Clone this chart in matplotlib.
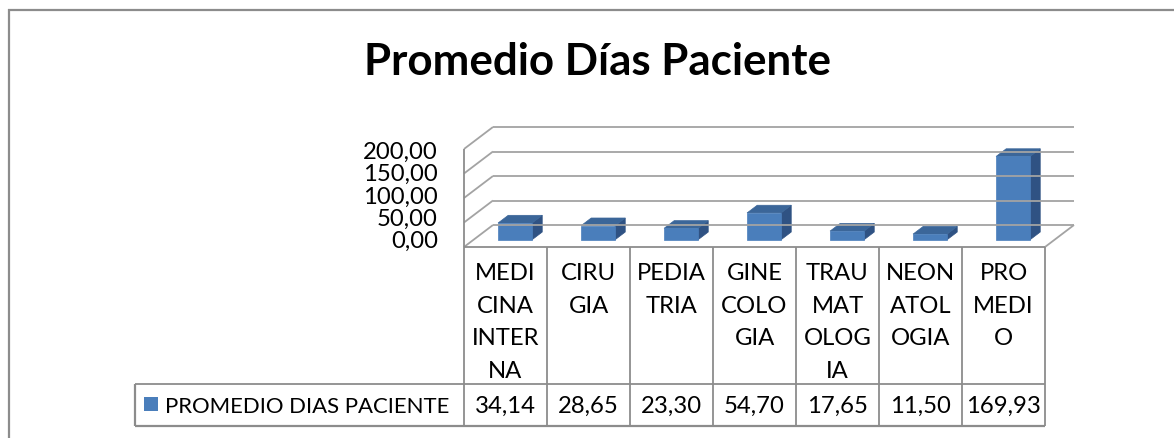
import matplotlib
matplotlib.use("Agg")
import matplotlib.pyplot as plt
from matplotlib.patches import Polygon, Rectangle

plt.rcParams['font.family'] = ['Lato', 'DejaVu Sans']

# data
categories = ["MEDI\nCINA\nINTER\nNA", "CIRU\nGIA", "PEDIA\nTRIA", "GINE\nCOLO\nGIA",
              "TRAU\nMAT\nOLOG\nIA", "NEON\nATOL\nOGIA", "PRO\nMEDI\nO"]
values = [34.14, 28.65, 23.30, 54.70, 17.65, 11.50, 169.93]
series_name = "PROMEDIO DIAS PACIENTE"
y_ticks = [0, 50, 100, 150, 200]
title = "Promedio Días Paciente"

W, H = 1174, 438
fig = plt.figure(figsize=(W / 100, H / 100), dpi=100)
fig.patch.set_facecolor("white")

# front plane of the 3d box (value scale)
ax = fig.add_axes([464 / W, (H - 247) / H, 581 / W, 98 / H])
ax.set_xlim(-0.5, len(values) - 0.5)
ax.set_ylim(0, 200)
ax.axis("off")

# pixel canvas, y down
cv = fig.add_axes([0, 0, 1, 1], zorder=2)
cv.set_xlim(0, W)
cv.set_ylim(H, 0)
cv.axis("off")
cv.patch.set_alpha(0)

DX, DY = 29, 22
GRID = "#a3a3a3"
LINE = "#8c8c8c"
FRONT, TOP, SIDE = "#4a7ebb", "#3b6699", "#2f5283"


def proj(x, v, d=0.0):
    disp = ax.transData.transform((x, v))
    px, py = cv.transData.inverted().transform(disp)
    return px + DX * d, py - DY * d


def seg(p, q, **kw):
    cv.plot([p[0], q[0]], [p[1], q[1]], solid_capstyle="butt", **kw)


x0, x1 = -0.5, len(values) - 0.5
for t in y_ticks:
    seg(proj(x0, t, 0), proj(x0, t, 1), color=GRID, lw=1.3)
    seg(proj(x0, t, 1), proj(x1, t, 1), color=GRID, lw=1.3)
seg(proj(x1, 0, 0), proj(x1, 0, 1), color=GRID, lw=1.3)
seg(proj(x0, 0, 0), proj(x0, 200, 0), color=LINE, lw=1.3)

# bars
bw = 0.41
d0, d1 = 0.33, 0.68
for i, v in enumerate(values):
    l, r = i - bw / 2, i + bw / 2
    front = [proj(l, 0, d0), proj(r, 0, d0), proj(r, v, d0), proj(l, v, d0)]
    top = [proj(l, v, d0), proj(r, v, d0), proj(r, v, d1), proj(l, v, d1)]
    side = [proj(r, 0, d0), proj(r, 0, d1), proj(r, v, d1), proj(r, v, d0)]
    for pts, c in ((side, SIDE), (top, TOP), (front, FRONT)):
        cv.add_patch(Polygon(pts, closed=True, facecolor=c, edgecolor=c, lw=0.5))

# data table
row0, row1, row2 = 247, 384, 426
leg_left = 135
for i in range(len(values) + 1):
    x = proj(i - 0.5, 0)[0]
    seg((x, row0), (x, row2), color=LINE, lw=1.3)
seg((proj(x0, 0)[0], row0), (proj(x1, 0)[0], row0), color=LINE, lw=1.3)
seg((leg_left, row1), (proj(x1, 0)[0], row1), color=LINE, lw=1.3)
seg((leg_left, row2), (proj(x1, 0)[0], row2), color=LINE, lw=1.6)
seg((leg_left, row1), (leg_left, row2), color=LINE, lw=1.6)

r = fig.canvas.get_renderer()


def fit(t, width):
    w = t.get_window_extent(r).width
    t.set_fontsize(t.get_fontsize() * width / w)
    return t.get_fontsize()


ref = cv.text(0, 0, "200,00", fontsize=18)
fs = fit(ref, 74) * 1.01
ref.remove()

for k, t in enumerate(y_ticks):
    lab = f"{t:.2f}".replace(".", ",")
    cv.text(438, 248 - 22.3 * k, lab, fontsize=fs, ha="right", va="baseline", color="black")

for i, (c, v) in enumerate(zip(categories, values)):
    xc = proj(i, 0)[0]
    for j, line in enumerate(c.split("\n")):
        cv.text(xc, 280 + 32.7 * j, line, fontsize=fs, ha="center", va="baseline")
    cv.text(xc, 413, f"{v:.2f}".replace(".", ","), fontsize=fs, ha="center", va="baseline")

cv.add_patch(Rectangle((144, 397), 14, 14, facecolor=FRONT, edgecolor="none"))
leg = cv.text(165, 413, series_name, fontsize=fs, ha="left", va="baseline")
fit(leg, 285)

tt = cv.text(597, 75, title, fontsize=30, fontweight="bold", ha="center", va="baseline")
fit(tt, 467)

# chart frame
seg((8, 9.5), (W, 9.5), color=LINE, lw=1.6)
seg((8.5, 9), (8.5, H), color=LINE, lw=1.6)

fig.savefig("out.png", dpi=100)
